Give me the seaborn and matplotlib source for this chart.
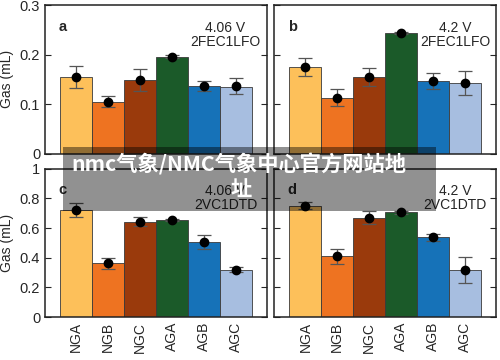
import numpy as np
import pandas as pd
import matplotlib
matplotlib.use("Agg")
import matplotlib.pyplot as plt
from matplotlib.patches import Rectangle
import seaborn as sns

# data
categories = ["NGA", "NGB", "NGC", "AGA", "AGB", "AGC"]
colors = ["#FDC05A", "#EE7321", "#9A3A0C", "#1B5A29", "#1672B8", "#A7BEE0"]

bar_a = [0.155, 0.104, 0.148, 0.195, 0.137, 0.135]
dot_a = [0.155, 0.105, 0.148, 0.196, 0.137, 0.136]
err_a = [0.022, 0.011, 0.022, 0.003, 0.010, 0.016]

bar_b = [0.174, 0.113, 0.155, 0.243, 0.147, 0.142]
dot_b = [0.175, 0.113, 0.155, 0.244, 0.147, 0.142]
err_b = [0.018, 0.017, 0.018, 0.002, 0.016, 0.024]

bar_c = [0.723, 0.362, 0.642, 0.653, 0.506, 0.320]
dot_c = [0.723, 0.362, 0.642, 0.653, 0.506, 0.320]
err_c = [0.047, 0.036, 0.030, 0.008, 0.048, 0.019]

bar_d = [0.750, 0.409, 0.669, 0.707, 0.537, 0.318]
dot_d = [0.750, 0.409, 0.669, 0.707, 0.537, 0.318]
err_d = [0.025, 0.053, 0.045, 0.010, 0.025, 0.085]

yticks_top = [0, 0.1, 0.2, 0.3]
ylabels_top = ["0", "0.1", "0.2", "0.3"]
yticks_bot = [0, 0.2, 0.4, 0.6, 0.8, 1.0]
ylabels_bot = ["0", "0.2", "0.4", "0.6", "0.8", "1"]

panels = [
    ("a", "4.06 V\n2FEC1LFO", bar_a, dot_a, err_a),
    ("b", "4.2 V\n2FEC1LFO", bar_b, dot_b, err_b),
    ("c", "4.06 V\n2VC1DTD", bar_c, dot_c, err_c),
    ("d", "4.2 V\n2VC1DTD", bar_d, dot_d, err_d),
]

sns.set_style("ticks")
plt.rcParams["font.family"] = ["Liberation Sans", "DejaVu Sans"]

fig, axes = plt.subplots(2, 2, figsize=(5, 3.6), dpi=100, sharey="row")
fig.subplots_adjust(left=0.09, right=0.992, top=0.986, bottom=0.119,
                    wspace=0.036, hspace=0.101)

for ax, (letter, label, bars, dots, errs) in zip(axes.flat, panels):
    df = pd.DataFrame({"cat": categories, "gas": bars})
    sns.barplot(data=df, x="cat", y="gas", hue="cat", palette=colors,
                width=1, saturation=1, errorbar=None, edgecolor="#3a3a3a",
                linewidth=0.6, legend=False, ax=ax)
    xpos = np.arange(len(categories))
    ax.errorbar(xpos, dots, yerr=errs, fmt="o", color="black", markersize=6,
                ecolor="#555555", elinewidth=0.9, capsize=5, capthick=0.9)
    ax.set_xlim(-0.97, 5.97)
    ax.set_xlabel("")
    ax.set_ylabel("")
    ax.tick_params(axis="y", direction="in", right=True, length=4,
                   labelsize=10.5, width=0.8)
    ax.tick_params(axis="x", length=0, labelsize=10)
    for sp in ax.spines.values():
        sp.set_linewidth(1.1)
        sp.set_color("#222222")
    ax.text(0.06, 0.9, letter, transform=ax.transAxes, fontsize=10.5,
            fontweight="bold", va="top", ha="left")
    ax.text(0.815, 0.895, label, transform=ax.transAxes, fontsize=10,
            va="top", ha="center", multialignment="center", linespacing=1.0)

for ax in axes[0]:
    ax.set_ylim(0, 0.3)
    ax.set_yticks(yticks_top)
    ax.set_xticklabels([])
for ax in axes[1]:
    ax.set_ylim(0, 1.0)
    ax.set_yticks(yticks_bot)
    ax.set_xticks(np.arange(len(categories)))
    ax.set_xticklabels(categories, rotation=90)
axes[0, 0].set_yticklabels(ylabels_top)
axes[1, 0].set_yticklabels(ylabels_bot)
axes[0, 0].set_ylabel("Gas (mL)", fontsize=10)
axes[1, 0].set_ylabel("Gas (mL)", fontsize=10)

# watermark banner over the middle of the figure
fig.add_artist(Rectangle((0.126, 0.414), 0.746, 0.178, transform=fig.transFigure,
                         facecolor="black", alpha=0.43, edgecolor="none"))
fig.text(0.478, 0.542, "nmc气象/NMC气象中心官方网站地", ha="center", va="center",
         color="white", fontsize=15.3, fontweight="bold",
         family=["Noto Sans CJK SC", "DejaVu Sans"])
fig.text(0.482, 0.47, "址", ha="center", va="center",
         color="white", fontsize=15.3, fontweight="bold",
         family=["Noto Sans CJK SC", "DejaVu Sans"])

fig.savefig("out.png", dpi=100)
